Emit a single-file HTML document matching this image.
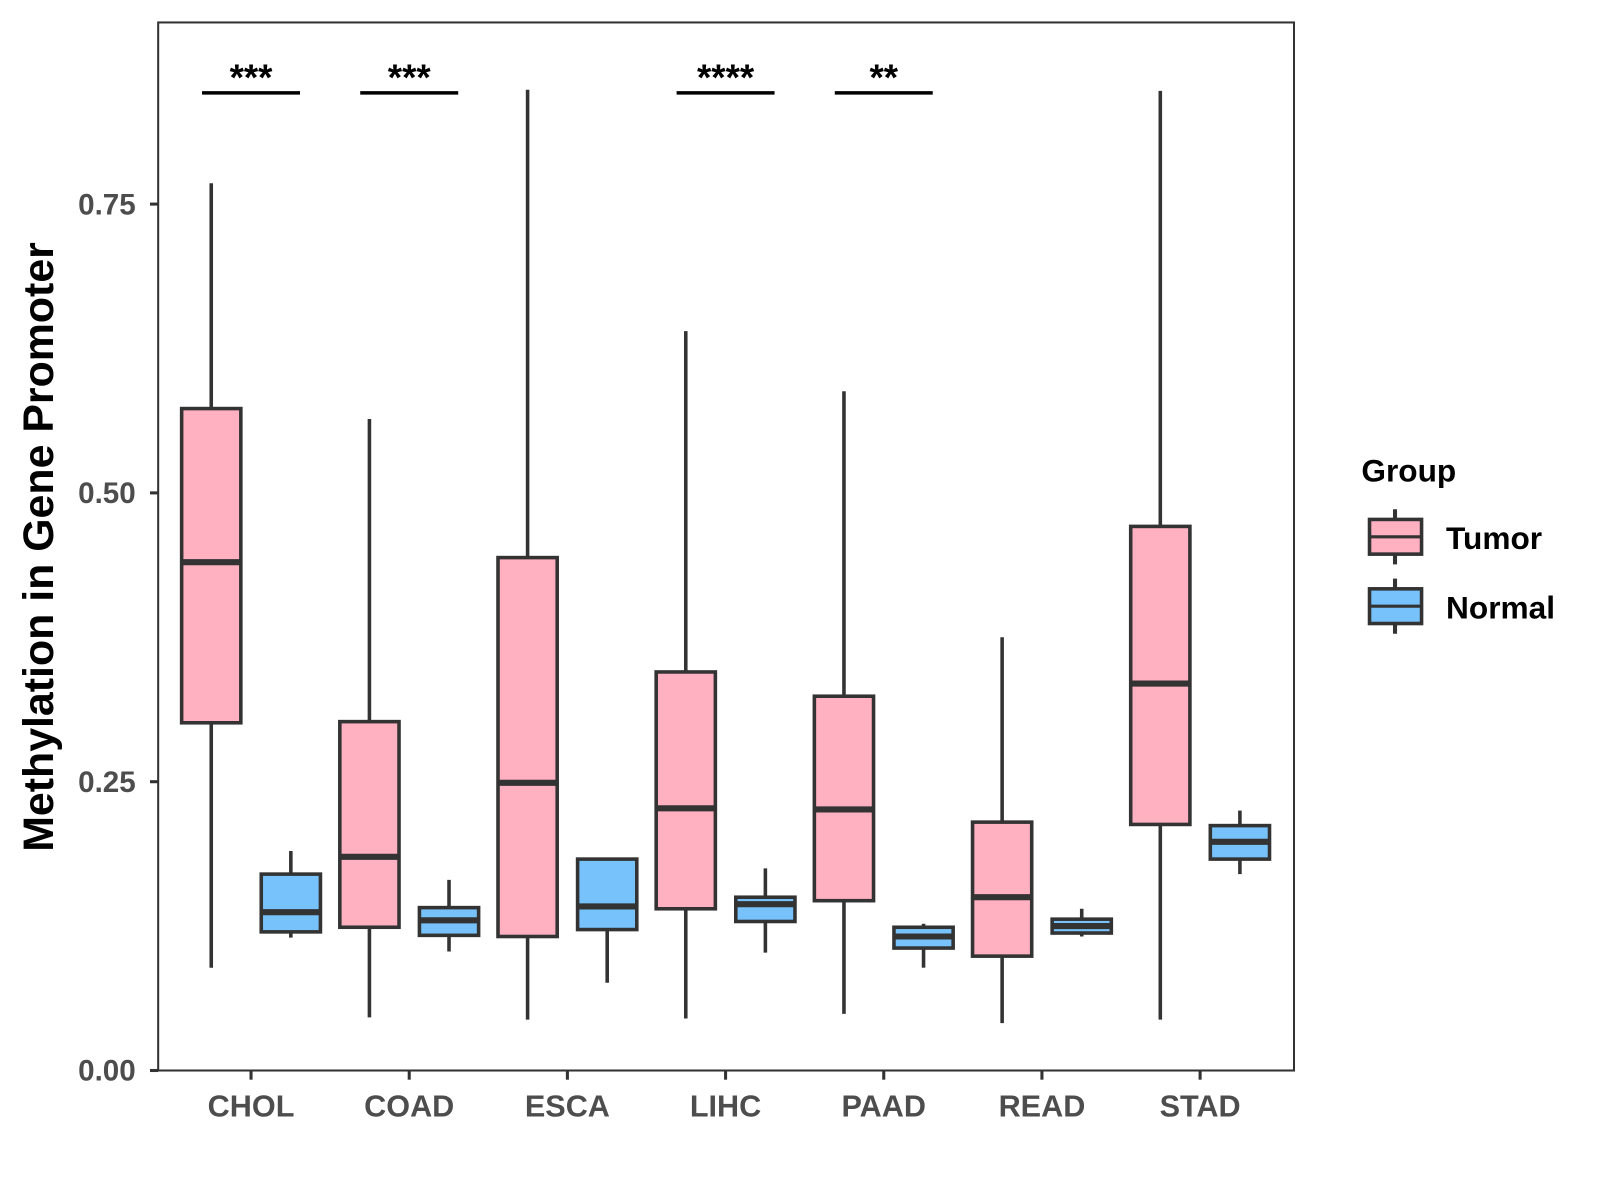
<!DOCTYPE html>
<html><head><meta charset="utf-8"><style>
html,body{margin:0;padding:0;background:#fff;}
svg{display:block;font-family:"Liberation Sans",Arial,sans-serif;}
</style></head><body>
<svg id="chart" width="1600" height="1200" viewBox="0 0 1600 1200">
<rect x="0" y="0" width="1600" height="1200" fill="#fff"/>
<g transform="scale(1.0205)">
<g id="marks"></g>
<rect x="155" y="22" width="1113" height="1027" fill="none" stroke="#333" stroke-width="2"/>
<text x="0" y="0" transform="translate(52,536) rotate(-90)" text-anchor="middle" font-size="42" font-weight="bold" fill="#000">Methylation in Gene Promoter</text>
<g>
<text x="1334" y="472" font-size="31" font-weight="bold">Group</text>
<g>
<line x1="1367" y1="499" x2="1367" y2="553" stroke="#333" stroke-width="4"/>
<rect x="1342" y="509" width="51" height="34" fill="#FFB0C1" stroke="#333" stroke-width="3.5"/>
<line x1="1342" y1="526" x2="1393" y2="526" stroke="#333" stroke-width="3"/>
<text x="1417" y="538" font-size="31" font-weight="bold">Tumor</text></g>
<g>
<line x1="1367" y1="567" x2="1367" y2="621" stroke="#333" stroke-width="4"/>
<rect x="1342" y="577" width="51" height="34" fill="#77C2FA" stroke="#333" stroke-width="3.5"/>
<line x1="1342" y1="594" x2="1393" y2="594" stroke="#333" stroke-width="3"/>
<text x="1417" y="606" font-size="31" font-weight="bold">Normal</text></g>
</g>
</g>
</svg>
<script>
const categories=["CHOL","COAD","ESCA","LIHC","PAAD","READ","STAD"];
const tumorLow=[0.089,0.046,0.044,0.045,0.049,0.041,0.044];
const tumorQ1=[0.301,0.124,0.116,0.140,0.147,0.099,0.213];
const tumorMed=[0.440,0.185,0.249,0.227,0.226,0.150,0.335];
const tumorQ3=[0.573,0.302,0.444,0.345,0.324,0.215,0.471];
const tumorHigh=[0.768,0.564,0.849,0.640,0.588,0.375,0.848];
const normalLow=[0.115,0.103,0.076,0.102,0.089,0.116,0.170];
const normalQ1=[0.120,0.117,0.122,0.129,0.106,0.119,0.183];
const normalMed=[0.137,0.130,0.142,0.144,0.116,0.125,0.198];
const normalQ3=[0.170,0.141,0.183,0.150,0.124,0.131,0.212];
const normalHigh=[0.190,0.165,0.183,0.175,0.127,0.140,0.225];
const sigLabels=["***","***","","****","**","",""];
const yTicks=[0,0.25,0.5,0.75];
const yTickLabels=["0.00","0.25","0.50","0.75"];

const NS="http://www.w3.org/2000/svg";
const g=document.getElementById("marks");
function yS(v){return 1049-v*1132;}
function xS(i){return 246+i*155;}
function el(t,a,p){const e=document.createElementNS(NS,t);for(const k in a)e.setAttribute(k,a[k]);(p||g).appendChild(e);return e;}

yTicks.forEach((v,i)=>{
  const t=el("line",{x1:147,x2:155,y1:yS(v),y2:yS(v),stroke:"#333","stroke-width":3});
  
  
  const l=el("text",{x:133,y:yS(v)+10,"text-anchor":"end","font-size":29,"font-weight":"bold",fill:"#4d4d4d"});
  l.textContent=yTickLabels[i];
  
  
});
categories.forEach((c,i)=>{
  const t=el("line",{x1:xS(i),x2:xS(i),y1:1049,y2:1058,stroke:"#333","stroke-width":3});
  
  
  const l=el("text",{x:xS(i),y:1094,"text-anchor":"middle","font-size":30,"font-weight":"bold",fill:"#4d4d4d"});
  l.textContent=c;
  
  
});
function box(cx,lo,q1,md,q3,hi,fill,name){
  const gg=el("g",{});
  
  
  el("line",{x1:cx,x2:cx,y1:yS(hi),y2:yS(lo),stroke:"#333","stroke-width":3.5},gg);
  el("rect",{x:cx-29,y:yS(q3),width:58,height:yS(q1)-yS(q3),fill:fill,stroke:"#333","stroke-width":3.5},gg);
  el("line",{x1:cx-29,x2:cx+29,y1:yS(md),y2:yS(md),stroke:"#333","stroke-width":6},gg);
}
categories.forEach((c,i)=>{
  box(xS(i)-39,tumorLow[i],tumorQ1[i],tumorMed[i],tumorQ3[i],tumorHigh[i],"#FFB0C1","box-tumor-"+c.toLowerCase());
  box(xS(i)+39,normalLow[i],normalQ1[i],normalMed[i],normalQ3[i],normalHigh[i],"#77C2FA","box-normal-"+c.toLowerCase());
  if(sigLabels[i]){
    const b=el("line",{x1:xS(i)-48,x2:xS(i)+48,y1:91,y2:91,stroke:"#000","stroke-width":3.5});
    
    
    const s=el("text",{x:xS(i),y:88,"text-anchor":"middle","font-size":36,"font-weight":"bold",fill:"#000"});
    s.textContent=sigLabels[i];
    
    
  }
});
</script>
</body></html>
